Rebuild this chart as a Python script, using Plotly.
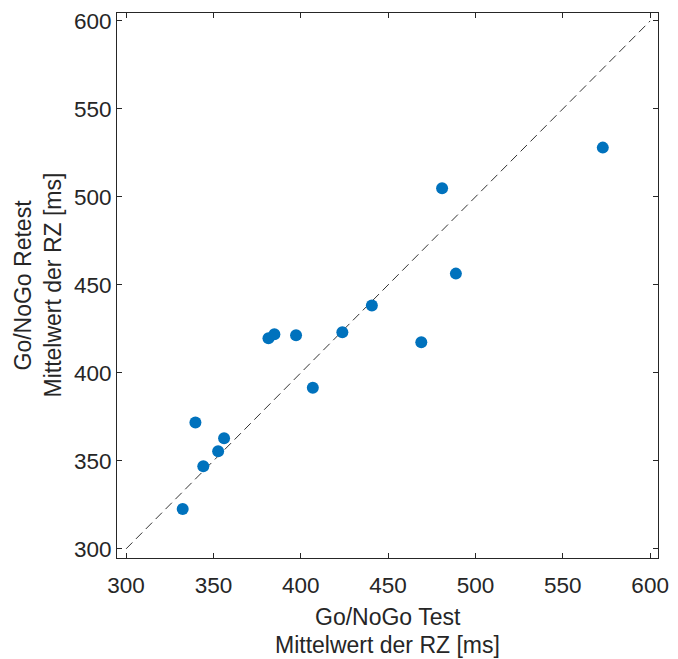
import plotly.graph_objects as go

test_rt = [332.4, 339.7, 344.2, 352.7, 356.1, 381.5, 384.9, 397.3, 406.9, 423.8,
           440.7, 469.0, 480.9, 488.8, 572.9]
retest_rt = [322.7, 371.8, 347.0, 355.4, 362.8, 419.7, 422.0, 421.4, 391.5, 423.1,
             438.3, 417.4, 504.9, 456.4, 528.0]
identity = [300, 600]
tick_vals = [300, 350, 400, 450, 500, 550, 600]
x_title = ["Go/NoGo Test", "Mittelwert der RZ [ms]"]
y_title = ["Go/NoGo Retest", "Mittelwert der RZ [ms]"]

font_color = "#262626"
fam = "Liberation Sans, Arial"
fig = go.Figure()
fig.add_trace(go.Scatter(x=identity, y=identity, mode="lines",
                         line=dict(color="#333333", width=1, dash="9px,5px"),
                         showlegend=False, hoverinfo="skip"))
fig.add_trace(go.Scatter(x=test_rt, y=retest_rt, mode="markers",
                         marker=dict(color="#0072BD", size=12),
                         showlegend=False))

axis_common = dict(
    range=[294.8, 604.5], tickvals=tick_vals, ticks="inside", ticklen=5,
    tickcolor=font_color, showline=True, linecolor=font_color, linewidth=1,
    mirror="ticks", showgrid=False, zeroline=False,
    tickfont=dict(family=fam, size=22.5, color=font_color),
)
fig.update_xaxes(**axis_common, ticklabelstandoff=7)
fig.update_yaxes(**axis_common)

tf = dict(family=fam, size=23, color=font_color)
for text, shift in zip(x_title, [-59, -87]):
    fig.add_annotation(text=text, xref="paper", yref="paper", x=0.5, y=0,
                       xanchor="center", yanchor="middle", yshift=shift,
                       showarrow=False, font=tf)
for text, shift in zip(y_title, [-95, -65]):
    fig.add_annotation(text=text, xref="paper", yref="paper", x=0, y=0.5,
                       xanchor="center", yanchor="middle", xshift=shift,
                       textangle=-90, showarrow=False, font=tf)

fig.update_layout(width=678, height=659, margin=dict(l=117, r=12, t=9, b=101),
                  plot_bgcolor="white", paper_bgcolor="white")
fig.write_html("out.html")
